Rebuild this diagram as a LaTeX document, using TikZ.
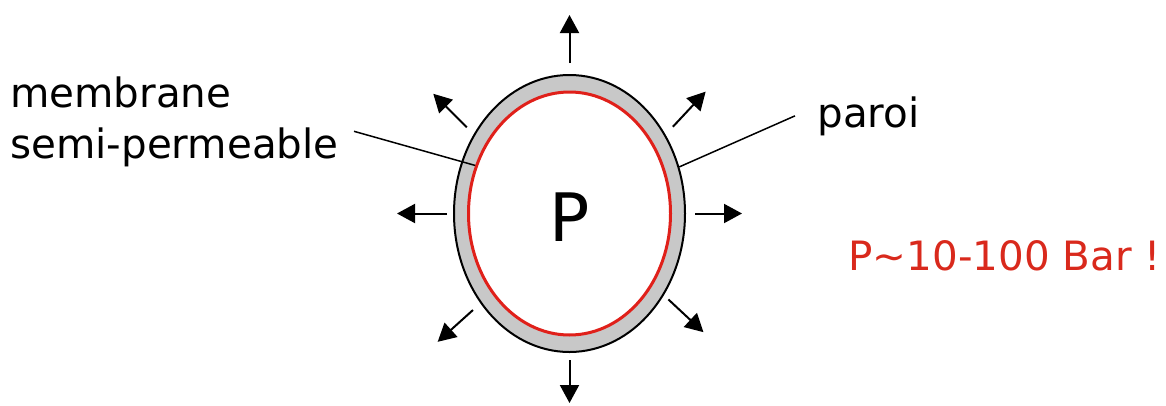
\documentclass[tikz,border=0pt]{standalone}
\usepackage{fontspec}
\setmainfont{DejaVu Sans}
\usetikzlibrary{arrows.meta,calc,shapes.geometric}
\definecolor{CellGray}{HTML}{C8C8C8}
\definecolor{CellRed}{HTML}{E0201A}
\definecolor{NoteRed}{HTML}{D9291C}

\begin{document}
\begin{tikzpicture}[
          >={Triangle[length=0.36cm,width=0.38cm]},
          wallring/.style={ellipse,draw=black,line width=0.04cm,fill=CellGray,
            minimum width=4.62cm,minimum height=5.54cm,inner sep=0},
          membring/.style={ellipse,draw=CellRed,line width=0.06cm,fill=white,
            minimum width=4.04cm,minimum height=4.86cm,inner sep=0},
          push/.style={->,line width=0.04cm},
          leader/.style={line width=0.03cm},
          lbl/.style={font=\fontsize{23}{28.5}\selectfont,inner sep=0,align=left},
          bigp/.style={font=\fontsize{38}{40}\selectfont,inner sep=0}
        ]
        \path[use as bounding box] (0,0) rectangle (23.32,8.1);
        \node[wallring] (wall) at (11.39,3.83) {};
        \node[membring] (memb) at (wall.center) {};
        \node[bigp] (pin) at ([yshift=-0.07cm]wall.center) {P};

        % pressure arrows
        \foreach \sa/\sr/\da/\len in {90/3.01/90/0.96, 270/2.93/270/0.86,
            180/2.45/180/1.0, 0/2.51/0/0.94, 140/2.68/135/0.95,
            40/2.70/47/0.96, 225/2.73/222/0.95, -41/2.62/-43/0.96}
          \draw[push] ($(wall.center)+(\sa:\sr)$) -- ++(\da:\len);

        % labels
        \node[lbl,anchor=base west] (memlbl) at (0.2,4.94) {membrane\\semi-permeable};
        \node[lbl,anchor=base west] (paroi) at (16.34,5.56) {paroi};
        \node[lbl,anchor=base west,text=NoteRed] (bar) at (16.96,2.7) {P\textasciitilde 10-100 Bar !};

        \draw[leader] ([xshift=0.3cm,yshift=-0.19cm]memlbl.east) -- (memb.153);
        \draw[leader] ([xshift=-0.44cm]paroi.west) -- (wall.23);
      \end{tikzpicture}
\end{document}
